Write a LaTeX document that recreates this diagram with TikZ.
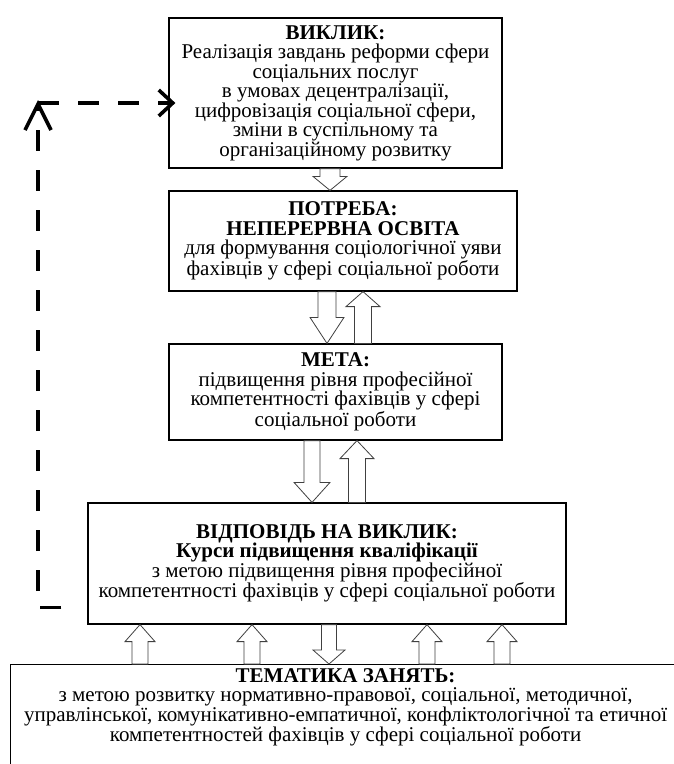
\documentclass[tikz,border=0pt]{standalone}
\usepackage{fontspec}
\setmainfont{Liberation Serif}
\usetikzlibrary{calc,arrows.meta}
\newcommand\fs{\fontsize{21bp}{19.5bp}\selectfont}
\newcommand\blockarr[5]{%
  \draw[blk] let \p1=#1, \p2=#2, \n1={sign(\y2-\y1)*#5} in
   ({\x1-#3},\y1) -- ({\x1-#3},{\y2-\n1}) -- ({\x1-#4},{\y2-\n1}) -- (\x1,\y2)
   -- ({\x1+#4},{\y2-\n1}) -- ({\x1+#3},{\y2-\n1}) -- ({\x1+#3},\y1) -- cycle;}
\tikzset{
  box/.style={draw, line width=1.2bp, inner sep=0pt, align=center, font=\fs},
  blk/.style={draw=black!75, fill=white, line width=0.8bp, line join=miter},
  dashln/.style={line width=3.6bp, dash pattern=on 21bp off 19bp}
}
\begin{document}
\begin{tikzpicture}[x=1bp,y=-1bp]
\useasboundingbox (0,0) rectangle (674,764);
\clip (0,0) rectangle (674,764);
\fill[white] (0,0) rectangle (674,764);

\node[box, minimum width=333bp, minimum height=150bp] (b1) at (335.5,93)
  {\textbf{ВИКЛИК:}\\Реалізація завдань реформи сфери\\соціальних послуг\\в умовах децентралізації,\\цифровізація соціальної сфери,\\зміни в суспільному та\\організаційному розвитку};
\node[box, minimum width=348bp, minimum height=100bp] (b2) at (343,241)
  {\textbf{ПОТРЕБА:}\\\textbf{НЕПЕРЕРВНА ОСВІТА}\\для формування соціологічної уяви\\фахівців у сфері соціальної роботи};
\node[box, minimum width=333bp, minimum height=96bp] (b3) at (335.5,392)
  {\textbf{МЕТА:}\\підвищення рівня професійної\\компетентності фахівців у сфері\\соціальної роботи};
\node[box, minimum width=478bp, minimum height=121bp] (b4) at (327,563.5)
  {\textbf{ВІДПОВІДЬ НА ВИКЛИК:}\\\textbf{Курси підвищення кваліфікації}\\з метою підвищення рівня професійної\\компетентності фахівців у сфері соціальної роботи};
\node[draw, line width=1.2bp, inner sep=0pt, minimum width=670bp, minimum height=200bp, anchor=north west] (b5) at (10,664) {};
\node[align=center, font=\fs, inner sep=0pt, anchor=north] (b5t) at ($(b5.north)+(0,4)$)
  {\textbf{ТЕМАТИКА ЗАНЯТЬ:}\\з метою розвитку нормативно-правової, соціальної, методичної,\\управлінської, комунікативно-емпатичної, конфліктологічної та етичної\\компетентностей фахівців у сфері соціальної роботи};

\coordinate (c12) at (330,0);
\coordinate (c23) at (327,0);
\coordinate (c32) at (363,0);
\coordinate (c34) at (312,0);
\coordinate (c43) at (357,0);
\coordinate (u1) at (140,0);
\coordinate (u2) at (252,0);
\coordinate (d45) at (329,0);
\coordinate (u3) at (427,0);
\coordinate (u4) at (502,0);

\blockarr{(b1.south -| c12)}{(b2.north -| c12)}{10bp}{17bp}{14bp}
\blockarr{(b2.south -| c23)}{(b3.north -| c23)}{9bp}{17bp}{26bp}
\blockarr{(b3.north -| c32)}{(b2.south -| c32)}{8.5bp}{17bp}{15bp}
\blockarr{(b3.south -| c34)}{(b4.north -| c34)}{8bp}{18bp}{20bp}
\blockarr{(b4.north -| c43)}{(b3.south -| c43)}{8.5bp}{17bp}{18bp}
\blockarr{(b5.north -| u1)}{(b4.south -| u1)}{8bp}{15bp}{17bp}
\blockarr{(b5.north -| u2)}{(b4.south -| u2)}{8bp}{15bp}{17bp}
\blockarr{(b5.north -| u3)}{(b4.south -| u3)}{8bp}{15bp}{17bp}
\blockarr{(b5.north -| u4)}{(b4.south -| u4)}{8bp}{15bp}{17bp}
\blockarr{(b4.south -| d45)}{(b5.north -| d45)}{7.5bp}{16bp}{14bp}

\coordinate (dstart) at ($(b4.south west)+(-26,-17)$);
\coordinate (dtop) at (38,100);
\coordinate (dcorner) at (38,103);
\draw[dashln, -{Straight Barb[length=26bp,width=26bp]}] (dstart) -| (dtop);
\draw[dashln, -{Straight Barb[length=14bp,width=26bp]}] (dcorner) -- ($(b1.west |- dcorner)+(7,0)$);
\end{tikzpicture}
\end{document}
